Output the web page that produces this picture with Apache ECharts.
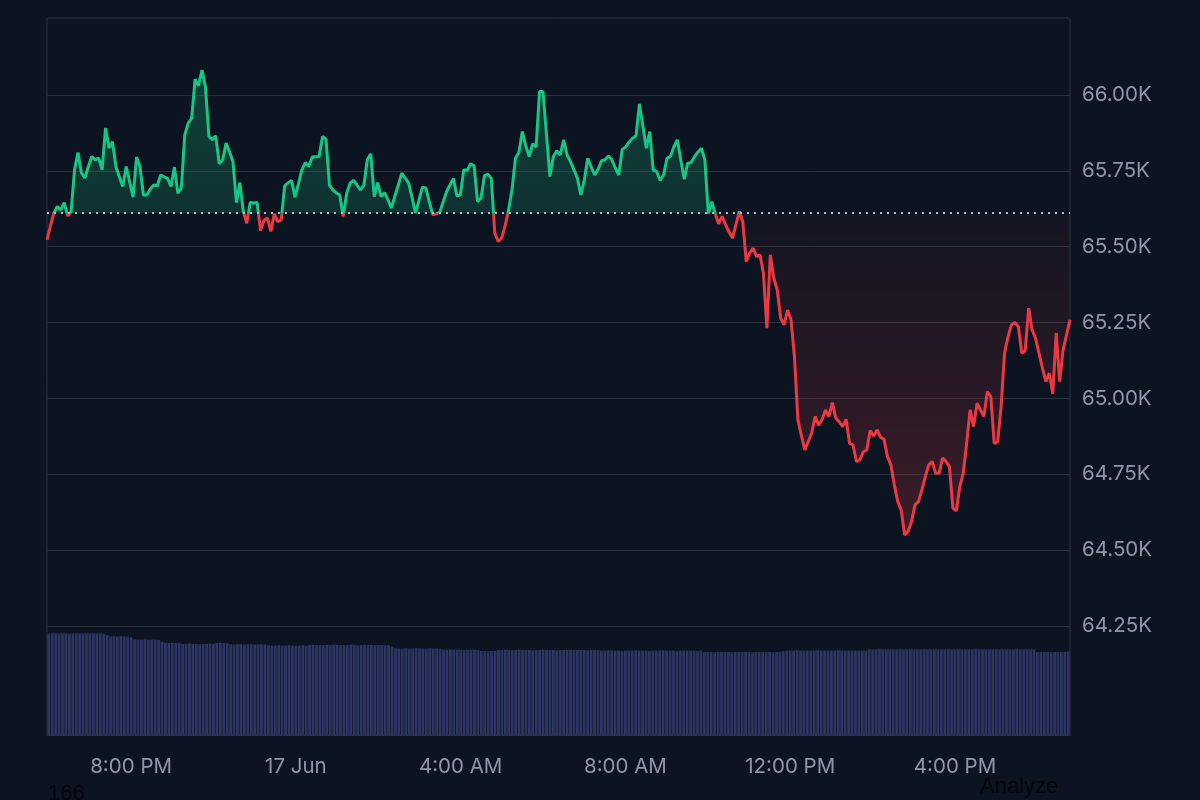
<!DOCTYPE html>
<html>
<head>
<meta charset="utf-8">
<script src="https://cdn.jsdelivr.net/npm/echarts@6/dist/echarts.min.js"></script>
<style>
html,body{margin:0;padding:0;background:#0d1421;}
#chart{width:1200px;height:800px;}
</style>
</head>
<body>
<div id="chart"></div>
<script>
// ---- data ----
const startTime = [2024, 5, 16, 18, 0];   // 16 Jun 2024 18:00 (local)
const stepMinutes = 5;
const baseline = 65611;                    // reference (dotted) price

const price = [
65522,65568,65611,65632,65621,65645,65601,65615,65753,65810,
65743,65726,65763,65797,65786,65792,65753,65891,65825,65846,
65764,65730,65698,65764,65713,65663,65795,65764,65670,65670,
65690,65703,65700,65736,65730,65725,65698,65762,65676,65693,
65868,65907,65923,66052,66030,66082,66027,65863,65852,65865,
65773,65786,65841,65812,65780,65645,65711,65615,65577,65645,
65644,65645,65553,65586,65594,65550,65608,65582,65588,65700,
65710,65718,65663,65707,65753,65777,65764,65795,65796,65797,
65863,65854,65703,65687,65677,65670,65599,65676,65709,65718,
65703,65687,65703,65786,65806,65665,65711,65665,65678,65654,
65627,65667,65703,65742,65726,65709,65661,65610,65654,65696,
65693,65647,65605,65608,65612,65647,65681,65703,65725,65667,
65670,65753,65751,65773,65766,65648,65660,65733,65739,65725,
65544,65517,65528,65568,65621,65687,65791,65810,65879,65832,
65797,65839,65828,66011,66011,65871,65731,65797,65816,65802,
65852,65802,65780,65753,65725,65670,65720,65791,65763,65736,
65755,65783,65786,65799,65786,65759,65736,65821,65828,65845,
65857,65865,65970,65898,65824,65879,65753,65747,65718,65736,
65791,65797,65829,65852,65786,65722,65775,65777,65797,65812,
65824,65786,65608,65648,65608,65575,65600,65572,65549,65528,
65572,65616,65582,65451,65479,65495,65467,65473,65412,65231,
65473,65396,65357,65264,65242,65291,65259,65138,64929,64879,
64830,64857,64885,64940,64912,64929,64962,64940,64986,64935,
64923,64907,64931,64852,64847,64792,64797,64824,64830,64894,
64876,64896,64872,64865,64808,64781,64715,64660,64632,64550,
64561,64594,64649,64660,64698,64742,64781,64792,64753,64753,
64803,64792,64775,64638,64630,64709,64753,64852,64962,64907,
64984,64962,64940,65022,65006,64852,64857,64973,65149,65203,
65242,65250,65236,65149,65157,65297,65226,65198,65149,65100,
65055,65083,65015,65215,65055,65160,65209,65259
];

const volume = [
30.4,30.5,30.5,30.4,30.5,30.5,30.4,30.5,30.5,30.5,
30.4,30.5,30.5,30.5,30.4,30.5,30.3,30.0,29.6,29.6,
29.5,29.6,29.5,29.5,29.3,28.7,28.6,28.6,28.7,28.6,
28.6,28.6,28.5,28.0,27.6,27.6,27.7,27.6,27.6,27.3,
27.3,27.4,27.3,27.3,27.2,27.3,27.3,27.4,27.3,27.6,
27.7,27.6,27.5,27.2,27.1,27.2,27.2,27.1,27.2,27.2,
27.1,27.2,27.2,27.1,26.9,26.8,26.8,26.9,26.8,26.8,
26.9,26.8,26.8,26.8,26.9,26.8,27.0,27.1,27.0,27.0,
26.9,27.0,27.0,27.1,27.0,26.9,27.0,27.0,27.1,27.0,
26.9,27.0,27.1,27.0,27.0,26.9,27.0,27.0,26.9,26.9,
26.5,26.0,25.9,25.9,26.0,25.9,25.9,26.0,25.9,25.9,
25.9,26.0,25.9,25.9,25.8,25.6,25.6,25.7,25.6,25.6,
25.6,25.5,25.6,25.6,25.6,25.5,25.2,25.2,25.1,25.2,
25.2,25.5,25.5,25.6,25.5,25.5,25.5,25.6,25.5,25.5,
25.5,25.4,25.5,25.5,25.6,25.5,25.5,25.5,25.4,25.5,
25.5,25.5,25.6,25.5,25.5,25.5,25.5,25.4,25.5,25.5,
25.5,25.3,25.3,25.4,25.3,25.3,25.3,25.2,25.3,25.3,
25.3,25.4,25.3,25.3,25.3,25.2,25.3,25.3,25.3,25.4,
25.3,25.3,25.3,25.2,25.3,25.3,25.3,25.3,25.3,25.2,
25.3,24.9,24.9,24.9,24.8,24.9,24.9,24.9,24.9,24.8,
24.9,24.9,24.9,24.9,24.9,24.8,24.9,24.9,24.9,24.9,
24.9,24.8,24.9,24.9,25.1,25.3,25.3,25.3,25.4,25.3,
25.3,25.3,25.3,25.3,25.4,25.3,25.3,25.3,25.3,25.3,
25.4,25.3,25.3,25.3,25.3,25.3,25.3,25.3,25.3,25.7,
25.7,25.7,25.8,25.7,25.7,25.7,25.7,25.7,25.8,25.7,
25.7,25.7,25.7,25.7,25.7,25.8,25.7,25.7,25.7,25.7,
25.7,25.7,25.8,25.7,25.7,25.7,25.7,25.7,25.7,25.7,
25.8,25.7,25.7,25.7,25.7,25.7,25.7,25.7,25.7,25.7,
25.7,25.7,25.8,25.7,25.7,25.7,25.7,25.7,24.9,24.9,
24.9,24.9,24.8,24.9,24.9,24.9,24.9,25.0
];

const tickTimes  = ['20:00', '00:00', '04:00', '08:00', '12:00', '16:00'];
const tickLabels = ['8:00 PM', '17 Jun', '4:00 AM', '8:00 AM', '12:00 PM', '4:00 PM'];

const priceMin = 64250, priceMax = 66250, priceStep = 250;
const volumeAxisMax = 215;

// ---- build categories (time stamps of the 5-min samples) ----
const pad = n => (n < 10 ? '0' : '') + n;
const months = ['Jan','Feb','Mar','Apr','May','Jun','Jul','Aug','Sep','Oct','Nov','Dec'];
const categories = [];
const t0 = new Date(startTime[0], startTime[1], startTime[2], startTime[3], startTime[4]).getTime();
for (let i = 0; i < price.length; i++) {
  const d = new Date(t0 + i * stepMinutes * 60000);
  categories.push(d.getDate() + ' ' + months[d.getMonth()] + ' ' + pad(d.getHours()) + ':' + pad(d.getMinutes()));
}
const hm = c => c.split(' ')[2];
const labelFor = c => {
  const k = tickTimes.indexOf(hm(c));
  return k >= 0 ? tickLabels[k] : '';
};

// ---- colours ----
const BG = '#0d1421';
const GREEN = '#16c784';
const RED = '#ea3943';
const GRID = '#2a3040';
const TEXT = '#9096a8';
const FONT = 'Inter';

const maxV = Math.max(...price), minV = Math.min(...price);
const off = (maxV - baseline) / (maxV - minV);

const chart = echarts.init(document.getElementById('chart'), null, {renderer: 'canvas'});
chart.setOption({
  backgroundColor: BG,
  animation: false,
  grid: [
    {left: 47, right: 130, top: 19, height: 607, outerBoundsMode: 'none', containLabel: false},
    {left: 47, right: 130, top: 18, bottom: 65, outerBoundsMode: 'none', containLabel: false,
     show: true, borderColor: GRID, borderWidth: 1, backgroundColor: 'transparent'}
  ],
  xAxis: [
    {type: 'category', gridIndex: 0, data: categories, boundaryGap: false, show: false},
    {type: 'category', gridIndex: 1, data: categories, boundaryGap: true,
     axisLine: {show: true, lineStyle: {color: GRID, width: 1}},
     axisTick: {show: false},
     splitLine: {show: false},
     axisLabel: {
       interval: (idx, val) => labelFor(val) !== '',
       formatter: val => labelFor(val),
       color: TEXT, fontSize: 20.5, fontFamily: FONT, margin: 21, hideOverlap: false
     }}
  ],
  yAxis: [
    {type: 'value', gridIndex: 0, position: 'right', min: priceMin, max: priceMax, interval: priceStep,
     axisLine: {show: false}, axisTick: {show: false},
     axisLabel: {color: TEXT, fontSize: 20.5, fontFamily: FONT, margin: 12, showMaxLabel: false,
       padding: [9, 0, 0, 0],
       formatter: v => (v / 1000).toFixed(2) + 'K'},
     splitLine: {show: true, showMaxLine: false, lineStyle: {color: GRID, width: 1}}},
    {type: 'value', gridIndex: 1, min: 0, max: volumeAxisMax, show: false, splitLine: {show: false}}
  ],
  visualMap: {
    show: false, type: 'piecewise', seriesIndex: 0, dimension: 1,
    pieces: [
      {gt: baseline, lte: 1000000, color: GREEN},
      {gte: 0, lte: baseline, color: RED}
    ]
  },
  series: [
    {
      type: 'line', xAxisIndex: 0, yAxisIndex: 0, data: price,
      symbol: 'none', showSymbol: false, smooth: false,
      lineStyle: {width: 3},
      areaStyle: {
        origin: baseline,
        color: new echarts.graphic.LinearGradient(0, 0, 0, 1, [
          {offset: 0, color: 'rgba(22,199,132,0.36)'},
          {offset: off, color: 'rgba(22,199,132,0.24)'},
          {offset: off, color: 'rgba(234,57,67,0.04)'},
          {offset: 1, color: 'rgba(234,57,67,0.30)'}
        ])
      },
      markLine: {
        silent: true, symbol: ['none', 'none'], label: {show: false},
        lineStyle: {color: '#b4b9c6', type: [2, 5], width: 2},
        data: [{yAxis: baseline}]
      },
      z: 3
    },
    {
      type: 'bar', xAxisIndex: 1, yAxisIndex: 1, data: volume,
      barCategoryGap: '18%',
      itemStyle: {color: '#2b3561'},
      z: 1
    }
  ],
  graphic: [
    {type: 'text', left: 48, top: 783, z: 10,
     style: {text: '166', fill: '#05070c', font: '22px "Liberation Sans", Arial, sans-serif'}},
    {type: 'text', left: 980, top: 776, z: 10,
     style: {text: 'Analyze', fill: '#05070c', font: '22px "Liberation Sans", Arial, sans-serif'}}
  ]
});
</script>
</body>
</html>
